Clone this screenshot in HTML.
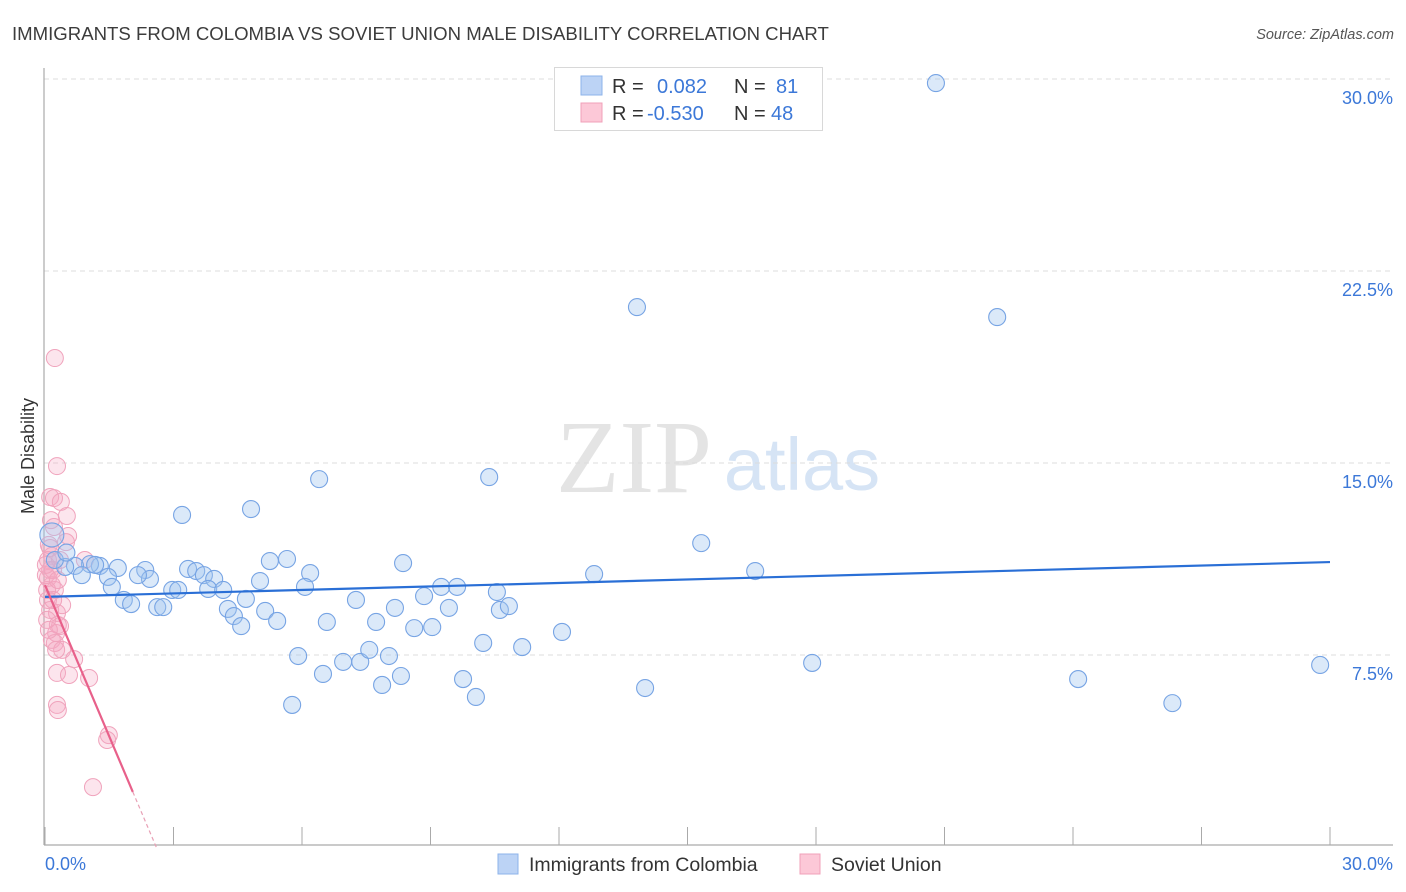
<!DOCTYPE html>
<html><head><meta charset="utf-8">
<style>
body{margin:0;background:#fff;font-family:"Liberation Sans",sans-serif;}
svg{display:block}
</style></head>
<body>
<svg id="chart" width="1406" height="892">
<text x="12" y="40" font-size="18.6" fill="#3c3c3c">IMMIGRANTS FROM COLOMBIA VS SOVIET UNION MALE DISABILITY CORRELATION CHART</text>
<text x="1394" y="39" font-size="14.5" fill="#555" text-anchor="end" font-style="italic">Source: ZipAtlas.com</text>
<g>
<text x="634" y="492" font-size="104" font-family="Liberation Serif,serif" fill="#e4e4e4" text-anchor="middle">ZIP</text>
<text x="802" y="490" font-size="74" fill="#d6e4f5" text-anchor="middle">atlas</text>
</g>
<g id="grid"></g>
<g id="axes"></g>
<g id="pts"></g>
<g id="trend"></g>
<text transform="translate(34,456) rotate(-90)" font-size="18" fill="#333" text-anchor="middle">Male Disability</text>
<g>
<rect x="554.5" y="67.5" width="268" height="63" fill="#fff" stroke="#d8d8d8"/>
<rect x="581" y="76" width="21" height="19" fill="#bcd3f5" stroke="#8db3ea"/>
<rect x="581" y="103" width="21" height="19" fill="#fcc8d7" stroke="#f0a0b9"/>
<text x="612" y="93" font-size="20" fill="#333">R =</text>
<text x="657" y="93" font-size="20" fill="#3c78d8">0.082</text>
<text x="734" y="93" font-size="20" fill="#333">N =</text>
<text x="776" y="93" font-size="20" fill="#3c78d8">81</text>
<text x="612" y="120" font-size="20" fill="#333">R =</text>
<text x="647" y="120" font-size="20" fill="#3c78d8">-0.530</text>
<text x="734" y="120" font-size="20" fill="#333">N =</text>
<text x="771" y="120" font-size="20" fill="#3c78d8">48</text>
</g>
<g>
<rect x="498" y="854" width="20" height="20" fill="#bcd3f5" stroke="#8db3ea"/>
<text x="529" y="871" font-size="19.5" fill="#333">Immigrants from Colombia</text>
<rect x="800" y="854" width="20" height="20" fill="#fcc8d7" stroke="#f0a0b9"/>
<text x="831" y="871" font-size="19.5" fill="#333">Soviet Union</text>
</g>
</svg>
<script>
const yTicks=[7.5,15,22.5,30];
const yTickLabels=["7.5%","15.0%","22.5%","30.0%"];
const xTickVals=[0,3,6,9,12,15,18,21,24,27,30];
const colombiaX=[20.80,13.82,22.23,6.40,10.37,3.20,4.81,15.32,16.58,12.82,8.36,5.25,5.65,6.19,6.07,5.02,3.34,3.53,3.71,3.95,1.70,2.34,2.45,1.28,1.05,0.70,0.47,0.86,1.47,1.56,2.17,2.97,3.11,3.81,4.16,4.69,4.27,4.41,4.58,5.14,5.42,6.58,7.26,7.73,8.17,8.62,9.04,8.85,9.25,9.62,9.43,10.55,10.62,10.83,10.23,11.14,12.07,5.91,6.96,7.36,7.57,8.03,6.49,7.87,8.31,9.76,10.06,5.77,14.01,17.91,24.12,26.32,29.77,1.84,2.01,2.62,2.76,1.17,0.23,0.16,0.5];
const colombiaY=[29.84,21.09,20.70,14.37,14.45,12.97,13.20,11.87,10.78,10.66,11.09,11.17,11.25,10.70,10.16,10.39,10.86,10.78,10.62,10.47,10.90,10.82,10.47,10.98,11.05,10.98,10.94,10.62,10.55,10.16,10.62,10.04,10.04,10.08,10.04,9.69,9.30,9.02,8.63,9.22,8.83,8.79,9.65,8.79,9.34,8.55,8.59,9.80,10.16,10.16,9.34,9.96,9.26,9.41,7.97,7.81,8.40,7.46,7.23,7.23,7.70,7.46,6.76,6.33,6.68,6.56,5.86,5.55,6.21,7.19,6.56,5.62,7.11,9.65,9.49,9.37,9.37,11.02,11.21,12.19,11.5];
const sovietX=[0.23,0.28,0.12,0.21,0.37,0.51,0.54,0.49,0.21,0.12,0.16,0.93,0.07,0.12,0.07,0.16,0.23,0.28,0.30,0.26,0.35,0.16,0.23,0.40,0.68,0.28,0.56,1.03,0.28,0.30,1.49,1.45,1.12,0.07,0.12,0.05,0.02,0.09,0.19,0.05,0.40,0.09,0.26,0.35,0.02,0.14,0.19,0.30];
const sovietY=[19.10,14.88,13.67,13.63,13.48,12.93,12.15,11.91,12.50,11.68,11.37,11.21,11.21,10.82,10.51,10.23,10.04,9.14,8.67,8.36,8.63,8.09,7.97,7.70,7.34,6.80,6.72,6.60,5.55,5.35,4.37,4.18,2.34,9.65,9.26,10.04,10.62,11.80,10.82,8.87,9.45,8.48,7.70,11.21,11.02,12.77,9.65,10.43];
const colombiaTrend=[9.77,11.13];
const sovietTrend=[10.23,-3.94];

const NS="http://www.w3.org/2000/svg";
const X0=45,X1=1330,Y0=847,YPX=768/30;
const xs=v=>X0+(X1-X0)*v/30;
const ys=v=>Y0-v*YPX;
function mk(tag,attrs,parent){const e=document.createElementNS(NS,tag);for(const k in attrs)e.setAttribute(k,attrs[k]);parent.appendChild(e);return e;}
const grid=document.getElementById('grid'),axes=document.getElementById('axes'),pts=document.getElementById('pts'),tr=document.getElementById('trend');
yTicks.forEach((t,i)=>{
 const l=mk('line',{x1:44,x2:1393,y1:ys(t),y2:ys(t),stroke:'#dcdcdc','stroke-dasharray':'5,4'},grid);
 
 
 const tx=mk('text',{x:1393,y:ys(t)+25,'font-size':18,fill:'#3c78d8','text-anchor':'end'},grid);
 tx.textContent=yTickLabels[i];
 
 
});
const ax=mk('line',{x1:44,x2:44,y1:68,y2:845,stroke:'#aaa','stroke-width':1.2},axes);


const bx=mk('line',{x1:44,x2:1393,y1:845,y2:845,stroke:'#aaa','stroke-width':1.2},axes);


xTickVals.forEach(v=>{
 const t=mk('line',{x1:xs(v),x2:xs(v),y1:827,y2:845,stroke:'#aaa'},axes);
 
 
});
const xl0=mk('text',{x:45,y:870,'font-size':18,fill:'#3c78d8'},axes);xl0.textContent='0.0%';


const xl1=mk('text',{x:1393,y:870,'font-size':18,fill:'#3c78d8','text-anchor':'end'},axes);xl1.textContent='30.0%';


sovietX.forEach((v,i)=>{
 const c=mk('circle',{cx:xs(v),cy:ys(sovietY[i]),r:8.5,fill:'rgba(246,170,196,0.3)',stroke:'#f0a3bc','stroke-width':1},pts);
 
 
});
colombiaX.forEach((v,i)=>{
 const c=mk('circle',{cx:xs(v),cy:ys(colombiaY[i]),r:(i===79?12:8.5),fill:'rgba(160,196,240,0.38)',stroke:'#77a4e4','stroke-width':1.1},pts);
 
 
});
const bl=mk('line',{x1:xs(0),y1:ys(colombiaTrend[0]),x2:xs(30),y2:ys(colombiaTrend[1]),stroke:'#2a6fd6','stroke-width':2.2},tr);


const sy=x=>sovietTrend[0]+sovietTrend[1]*x;
const xe=2.05,xz=-sovietTrend[0]/sovietTrend[1];
const pl=mk('line',{x1:xs(0),y1:ys(sy(0)),x2:xs(xe),y2:ys(sy(xe)),stroke:'#e8608a','stroke-width':2.2},tr);


const pd=mk('line',{x1:xs(xe),y1:ys(sy(xe)),x2:xs(xz),y2:ys(0),stroke:'#e8a0b5','stroke-width':1.2,'stroke-dasharray':'4,3'},tr);


</script>
</body></html>
